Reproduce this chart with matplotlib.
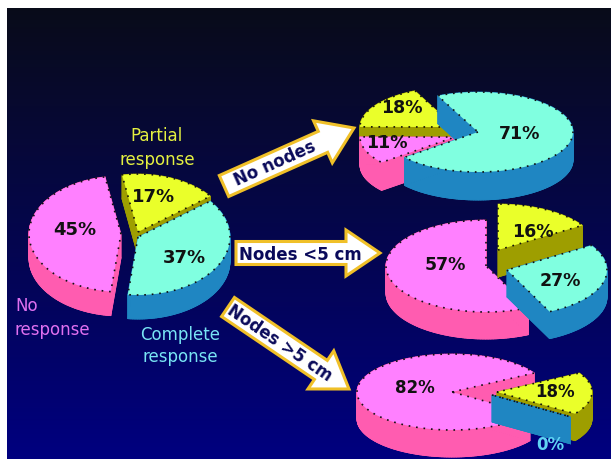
import numpy as np
import matplotlib
matplotlib.use("Agg")
import matplotlib.pyplot as plt
from matplotlib.patches import Polygon
from matplotlib.collections import PolyCollection

plt.rcParams['font.family'] = ['DejaVu Sans']

# ---------------- data ----------------
categories = ["No response", "Partial response", "Complete response"]
overall_values = [45, 17, 37]
no_nodes_values = [11, 18, 71]
nodes_small_values = [57, 16, 27]
nodes_large_values = [82, 18, 0]
group_labels = ["No nodes", "Nodes <5 cm", "Nodes >5 cm"]

# ---------------- styling ----------------
W, H = 611, 460
top_colors = ["#ff80ff", "#eaff2a", "#80ffe0"]
side_colors = ["#ff5cb0", "#9e9e00", "#1f86c2"]
caption_colors = ["#e070f0", "#e4f040", "#78e4f4"]

fig = plt.figure(figsize=(W / 100, H / 100), dpi=100, facecolor="white")
ax = fig.add_axes([0, 0, 1, 1])
ax.set_xlim(0, W)
ax.set_ylim(H, 0)
ax.axis("off")

# dark vertical gradient panel
n = 256
t = np.linspace(0, 1, n)[:, None]
c_top = np.array([0.035, 0.045, 0.10])
c_bot = np.array([0.0, 0.0, 0.50])
grad = (c_top * (1 - t) + c_bot * t)[:, None, :]
ax.imshow(grad, extent=[7, W, H, 9], aspect="auto", zorder=0,
          interpolation="bilinear")


def wedge_top(cx, cy, rx, ry, a0, a1):
    m = max(2, int(abs(a1 - a0) / 1.5) + 2)
    th = np.radians(np.linspace(a0, a1, m))
    rim = np.column_stack([cx + rx * np.cos(th), cy - ry * np.sin(th)])
    return np.vstack([[cx, cy], rim])


def draw_pie3d(values, layout, z0):
    total = float(sum(values))
    cx, cy = layout["center"]
    rx, ry, d = layout["rx"], layout["ry"], layout["depth"]
    ang = layout["start"]
    spans = {}
    for k in layout["order"]:
        span = values[k] / total * 360.0
        spans[k] = (ang, ang + span)
        ang += span
    z = z0
    for k in layout["draw"]:
        a0, a1 = spans[k]
        ox, oy = layout["offsets"][k]
        P = wedge_top(cx + ox, cy + oy, rx, ry, a0, a1)
        down = np.array([0.0, d])
        verts = [P + down]
        for i in range(len(P)):
            p, q = P[i], P[(i + 1) % len(P)]
            verts.append([p, q, q + down, p + down])
        pc = PolyCollection(verts, facecolors=side_colors[k],
                            edgecolors=side_colors[k], linewidths=0.6,
                            zorder=z)
        ax.add_collection(pc)
        ax.add_patch(Polygon(P, closed=True, facecolor=top_colors[k],
                             edgecolor="#111111", lw=1.2,
                             linestyle=(0, (1, 3.5)), zorder=z + 0.5))
        z += 1
    for k in range(len(values)):
        lx, ly = layout["labels"][k]
        col = layout.get("label_colors", {}).get(k, "#111111")
        ax.text(lx, ly, f"{values[k]}%", ha="center", va="center",
                fontsize=layout.get("fontsize", 12.5), fontweight="bold",
                color=col, zorder=z + 5)


main_layout = dict(center=(130, 236), rx=92, ry=58, depth=24, start=100,
                   order=[0, 2, 1], draw=[1, 0, 2],
                   offsets={0: (-9, -1), 1: (8, -3), 2: (8, 2)},
                   labels={0: (75, 230), 1: (154, 197), 2: (184, 258)},
                   fontsize=13)
top_layout = dict(center=(458, 131), rx=95, ry=40, depth=28, start=115,
                  order=[1, 0, 2], draw=[1, 0, 2],
                  offsets={0: (-3, 7), 1: (-3, -3), 2: (20, 2)},
                  labels={0: (387, 143), 1: (402, 108), 2: (520, 134)})
mid_layout = dict(center=(490, 264), rx=100, ry=46, depth=27, start=90,
                  order=[0, 2, 1], draw=[0, 1, 2],
                  offsets={0: (-4, 3), 1: (8, -13), 2: (17, 7)},
                  labels={0: (445, 265), 1: (533, 232), 2: (560, 281)})
bot_layout = dict(center=(460, 393), rx=95, ry=38, depth=27, start=30,
                  order=[0, 2, 1], draw=[0, 1, 2],
                  offsets={0: (-8, 0), 1: (37, 0), 2: (32, 3)},
                  labels={0: (415, 388), 1: (555, 392), 2: (550, 445)},
                  label_colors={2: "#60d4f4"}, fontsize=12)

draw_pie3d(overall_values, main_layout, 10)
draw_pie3d(no_nodes_values, top_layout, 20)
draw_pie3d(nodes_small_values, mid_layout, 30)
draw_pie3d(nodes_large_values, bot_layout, 40)

# category captions around the overall pie
ax.text(157, 148, "Partial\nresponse", ha="center", va="center",
        fontsize=12, color=caption_colors[1], linespacing=1.45, zorder=60)
ax.text(15, 318, "No\nresponse", ha="left", va="center",
        fontsize=12, color=caption_colors[0], linespacing=1.45, zorder=60)
ax.text(180, 346, "Complete\nresponse", ha="center", va="center",
        fontsize=12, color=caption_colors[2], linespacing=1.3, zorder=60)


def arrow(x0, y0, x1, y1, text, text_at, shaft_w=23, head_w=46, head_l=34):
    p0, p1 = np.array([x0, y0], float), np.array([x1, y1], float)
    dvec = p1 - p0
    L = np.hypot(*dvec)
    u = dvec / L
    nrm = np.array([-u[1], u[0]])
    hb = p0 + u * (L - head_l)
    pts = [p0 + nrm * shaft_w / 2, hb + nrm * shaft_w / 2, hb + nrm * head_w / 2,
           p1, hb - nrm * head_w / 2, hb - nrm * shaft_w / 2, p0 - nrm * shaft_w / 2]
    ax.add_patch(Polygon(pts, closed=True, facecolor="white",
                         edgecolor="#f0c028", lw=2.2, joinstyle="miter",
                         zorder=70))
    rot = np.degrees(np.arctan2(-(y1 - y0), x1 - x0))
    ax.text(text_at[0], text_at[1], text, rotation=rot, rotation_mode="anchor",
            ha="center", va="center", fontsize=12, fontweight="bold",
            color="#0a0a5a", zorder=71)


arrow(224, 187, 354, 129, group_labels[0], (275, 164))
arrow(236, 254, 380, 254, group_labels[1], (300, 255))
arrow(228, 308, 349, 390, group_labels[2], (280, 343))

fig.savefig("out.png", dpi=100, facecolor="white")
